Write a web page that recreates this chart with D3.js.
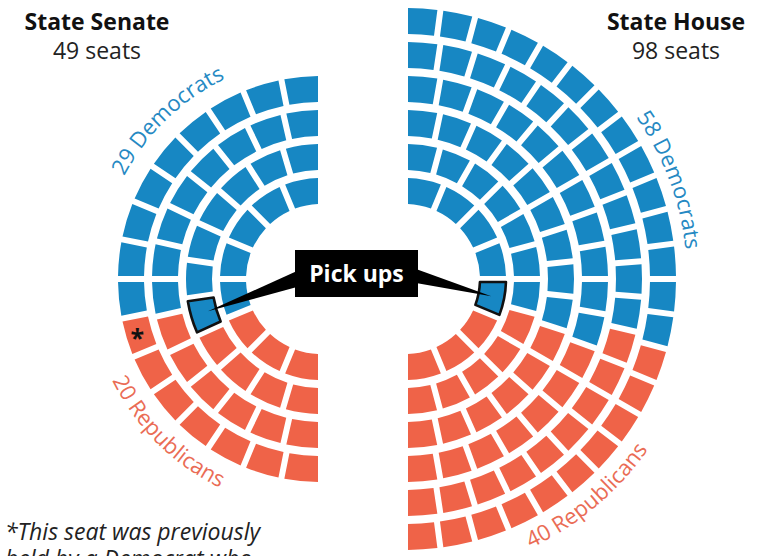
<!DOCTYPE html>
<html>
<head>
<meta charset="utf-8">
<script src="https://cdn.jsdelivr.net/npm/d3@7/dist/d3.min.js"></script>
<style>
  body { margin: 0; background: #fff; }
  svg { display: block; font-family: "Open Sans", sans-serif; }
</style>
</head>
<body>
<div id="chart"></div>
<script>
// Seats in each ring, innermost ring first
var senateRings = [8, 11, 14, 16];
var houseRings = [8, 12, 15, 18, 21, 24];

// Party totals, Democrats first (they fill from the top)
var parties = ["Democrats", "Republicans"];
var senateCounts = [29, 20];
var houseCounts = [58, 40];

// Highlighted seats: [ring, seat index counted from the top]
var senatePickup = [1, 6];
var housePickup = [0, 4];
var senateStarSeat = [3, 9];

var width = 769, height = 556;

var svg = d3.select("#chart").append("svg")
    .attr("width", width)
    .attr("height", height);

var color = d3.scaleOrdinal().domain(parties).range(["#1787c3", "#ef6348"]);
var labelColor = d3.scaleOrdinal().domain(parties).range(["#2589c3", "#ea6c55"]);

// ring index -> inner radius
var ringRadius = d3.scaleLinear().domain([0, 5]).range([75, 245]);
var ringDepth = 26;

var cy = 279;
var senateX = 321, houseX = 405;

// Build seats, sort them by angle and hand the first ones to the Democrats
function buildSeats(rings, counts) {
    var seats = [];
    rings.forEach(function (n, ri) {
        for (var k = 0; k < n; k++) {
            seats.push({ ring: ri, k: k, a0: k * Math.PI / n, a1: (k + 1) * Math.PI / n, mid: (k + 0.5) * Math.PI / n });
        }
    });
    var sorted = seats.slice().sort(function (a, b) { return a.mid - b.mid || b.ring - a.ring; });
    var i = 0;
    counts.forEach(function (c, pi) {
        for (var j = 0; j < c; j++) sorted[i++].party = parties[pi];
    });
    return seats;
}

function drawChamber(rings, counts, cx, side, pickup) {
    var seats = buildSeats(rings, counts);

    var arc = d3.arc()
        .innerRadius(function (d) { return ringRadius(d.ring); })
        .outerRadius(function (d) { return ringRadius(d.ring) + ringDepth; })
        .startAngle(function (d) { return side > 0 ? d.a0 : -d.a1; })
        .endAngle(function (d) { return side > 0 ? d.a1 : -d.a0; })
        .padAngle(0.06)
        .padRadius(100);

    var g = svg.append("g")
        .attr("transform", "translate(" + cx + "," + cy + ")");

    g.selectAll("path.seat")
        .data(seats)
        .enter().append("path")
        .attr("class", "seat")
        .attr("d", arc)
        .attr("fill", function (d) { return color(d.party); });

    var pick = seats.filter(function (d) { return d.ring === pickup[0] && d.k === pickup[1]; })[0];
    g.append("path")
        .attr("d", arc(pick))
        .attr("fill", color(pick.party))
        .attr("stroke", "#111")
        .attr("stroke-width", 2.6)
        .attr("stroke-linejoin", "round");

    return { g: g, seats: seats, arc: arc, pick: pick };
}

var senate = drawChamber(senateRings, senateCounts, senateX, -1, senatePickup);
var house = drawChamber(houseRings, houseCounts, houseX, 1, housePickup);

// asterisk on the flagged senate seat
var star = senate.seats.filter(function (d) { return d.ring === senateStarSeat[0] && d.k === senateStarSeat[1]; })[0];
var sc = senate.arc.centroid(star);
senate.g.append("text")
    .attr("x", sc[0] - 2)
    .attr("y", sc[1] + 13)
    .attr("text-anchor", "middle")
    .style("font-size", "25px")
    .style("font-weight", "bold")
    .attr("fill", "#111")
    .text("*");

// curved party labels
function rad(deg) { return deg * Math.PI / 180; }

function curvedLabel(chamber, id, r, centerDeg, spanDeg, ccw, party, count) {
    var p = d3.path();
    if (ccw) p.arc(0, 0, r, rad(centerDeg + spanDeg), rad(centerDeg - spanDeg), true);
    else p.arc(0, 0, r, rad(centerDeg - spanDeg), rad(centerDeg + spanDeg), false);
    chamber.g.append("path")
        .attr("id", id)
        .attr("d", p.toString())
        .attr("fill", "none");
    chamber.g.append("text")
        .style("font-size", "22px")
        .attr("fill", labelColor(party))
        .append("textPath")
        .attr("href", "#" + id)
        .attr("startOffset", "50%")
        .attr("text-anchor", "middle")
        .text(count + " " + party);
}

// angles measured from the positive x axis, screen y downwards
curvedLabel(senate, "sd", 222, -134, 45, false, parties[0], senateCounts[0]);
curvedLabel(senate, "sr", 232, 135, 45, true, parties[1], senateCounts[1]);
curvedLabel(house, "hd", 282, -20.5, 40, false, parties[0], houseCounts[0]);
curvedLabel(house, "hr", 297, 50, 40, true, parties[1], houseCounts[1]);

// "Pick ups" callout
var box = { x: 295, y: 250, w: 123, h: 47 };
var sp = senate.arc.centroid(senate.pick), hp = house.arc.centroid(house.pick);
var wedge = d3.line();
svg.append("path")
    .attr("d", wedge([[box.x + 2, box.y + 21], [senateX + sp[0] + 4, cy + sp[1] - 2], [box.x + 2, box.y + 37]]) + "Z")
    .attr("fill", "#000");
svg.append("path")
    .attr("d", wedge([[box.x + box.w - 2, box.y + 19], [houseX + hp[0], cy + hp[1]], [box.x + box.w - 2, box.y + 33]]) + "Z")
    .attr("fill", "#000");
svg.append("rect")
    .attr("x", box.x).attr("y", box.y)
    .attr("width", box.w).attr("height", box.h)
    .attr("fill", "#000");
svg.append("text")
    .attr("x", box.x + box.w / 2)
    .attr("y", box.y + 32)
    .attr("text-anchor", "middle")
    .attr("fill", "#fff")
    .style("font-size", "23px")
    .style("font-weight", "bold")
    .text("Pick ups");

// titles
var titles = [
    { x: 97, name: "State Senate", seats: d3.sum(senateRings) },
    { x: 676, name: "State House", seats: d3.sum(houseRings) }
];
titles.forEach(function (t) {
    svg.append("text")
        .attr("x", t.x).attr("y", 30)
        .attr("text-anchor", "middle")
        .style("font-size", "23px")
        .style("font-weight", "bold")
        .attr("fill", "#111")
        .text(t.name);
    svg.append("text")
        .attr("x", t.x).attr("y", 59)
        .attr("text-anchor", "middle")
        .style("font-size", "23px")
        .attr("fill", "#222")
        .text(t.seats + " seats");
});

// footnote
var note = svg.append("text")
    .attr("x", 5)
    .style("font-size", "23px")
    .style("font-style", "italic")
    .attr("fill", "#222");
note.append("tspan").attr("x", 5).attr("y", 540).text("*This seat was previously");
note.append("tspan").attr("x", 5).attr("y", 567).text("held by a Democrat who");
</script>
</body>
</html>
